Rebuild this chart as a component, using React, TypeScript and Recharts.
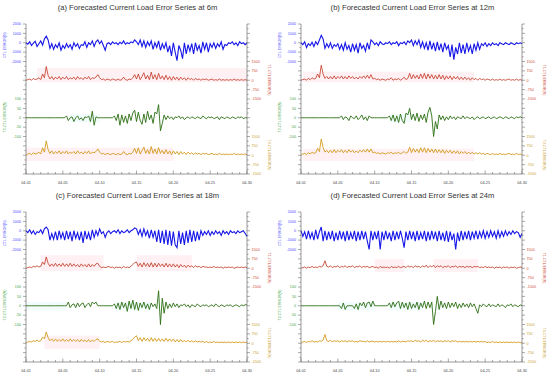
import { LineChart, Line, XAxis, YAxis, ReferenceArea } from "recharts";

// ---- data: 121 points = every 6h from 04-01 to 04-30 ----
const dateLabels = ["04-01", "04-05", "04-10", "04-15", "04-20", "04-25", "04-30"];
const ctlLabels = ["2000", "1000", "0", "-1000", "-2000"];
const t1Labels = ["1500", "750", "0", "-750", "-1500"];
const t2Labels = ["100", "50", "0", "-50", "-100"];
const t3Labels = ["1500", "750", "0", "-750", "-1500"];

const blueA = [0,-150,100,-300,-50,150,-400,-100,200,-250, 400,700,300,-600,-100,-700,-200,-500,0,-800, -300,-600,-100,-500,-200,-700,0,-400,-100,-600, -200,-300,100,-500,0,-200,200,-400,100,300, -100,200,-300,-800,-100,0,-200,100,-100,0, -200,50,-100,200,-150,0,-100,100,0,300, 100,-200,300,-400,200,-500,100,-300,200,-700, 0,-500,200,-800,-100,-600,0,-1000,-300,-1400, 0,-1000,-1900,-300,-800,-1700,0,-1200,-200,-900, -100,-1200,0,-800,-300,-1100,100,-700,0,-1000, -100,-500,0,-600,-100,-400,100,-700,-200,-300, 0,-100,100,-200,0,-300,100,-100,0,-200, 0];
const redA = [0,50,100,0,150,50,100,200,50,500, 200,1100,400,100,300,50,250,100,300,50, 250,100,300,50,200,100,250,50,300,100, 200,50,250,100,300,50,200,150,250,450, 200,50,100,0,100,50,0,100,50,0, 100,0,50,250,50,0,100,50,200,450, 100,500,50,300,600,100,400,50,650,100, 450,50,550,100,350,50,400,50,300,0, 300,50,250,0,250,50,200,0,200,50, 150,0,150,50,100,0,100,50,100,0, 50,100,0,50,0,100,0,50,0,50, 0,50,0,100,0,50,0,50,0,50, 0];
const greenA = [0,0,0,0,0,0,0,0,0,0, 0,0,0,0,0,0,0,0,0,0, 0,0,10,-15,0,5,-20,0,10,-10, 0,-15,5,0,10,-20,35,-40,5,0, 0,0,0,0,0,0,0,0,10,-15, 20,-40,15,-25,10,-30,20,-15,25,40, -20,30,-15,-35,20,-25,35,-10,15,-30, 30,20,70,-70,-30,15,-10,10,-5,5, -10,5,0,10,-5,5,-10,0,5,-5, 5,0,-5,5,0,-5,10,0,-5,5, 0,5,-5,0,5,-10,5,0,-5,5, 0,-5,5,0,-5,5,0,5,-5,0, 0];
const orangeA = [0,100,150,50,200,100,150,250,100,600, 250,1150,450,150,350,100,300,150,350,100, 300,150,350,100,250,150,300,100,350,150, 250,100,300,150,350,100,250,200,300,500, 250,100,150,50,150,100,50,150,100,50, 150,50,100,300,100,50,150,100,250,550, 150,600,100,350,650,150,450,100,700,150, 500,100,600,150,400,100,450,100,350,50, 350,100,300,50,300,100,250,50,250,100, 200,50,200,100,150,50,150,100,150,50, 100,150,50,100,50,150,50,100,50,100, 50,100,50,150,50,100,50,100,50,100, 50];

const blueB = [0,-200,100,-500,-100,-300,50,-400,100,-200, 300,800,400,-600,-100,-500,0,-600,-200,-400, -100,-700,-200,-800,0,-700,-300,-1000,-100,-800, -200,-1100,0,-600,-300,-900,0,-700,300,100, -200,0,-300,100,-100,-200,0,-100,100,-200, 0,-100,100,-300,0,-100,100,-200,200,0, 300,-300,200,-200,300,-500,100,-600,0,-800, 200,-700,0,-900,100,-800,-100,-1000,0,-700, -300,-1500,-200,-1800,-500,-1200,0,-1100,-200,-1200, 0,-900,-300,-1200,-100,-800,0,-700,-100,-300, 0,-400,-100,-300,0,-200,-100,-300,0,-100, -200,0,-100,-200,0,-100,-200,0,-100,0, -100];
const redB = [0,50,100,0,150,50,200,100,150,500, 200,1200,500,150,300,100,300,100,350,100, 300,150,350,100,300,100,350,150,300,100, 250,100,300,150,350,150,400,150,450,100, 150,50,100,0,100,50,0,100,50,200, 0,100,50,150,0,100,250,50,150,550, 100,450,150,400,100,500,150,550,100,500, 150,450,100,400,100,450,100,400,50,350, 100,350,50,300,100,300,50,250,50,250, 50,200,0,200,50,150,0,150,50,100, 0,100,50,0,100,0,50,0,100,0, 50,0,50,100,0,50,0,100,0,50, 0];
const greenB = [0,0,0,0,0,0,0,0,0,0, 0,0,0,0,0,0,0,0,0,0, 0,0,10,-10,5,0,-15,10,0,-5, 10,-10,0,15,-10,5,-15,10,0,0, 0,0,0,0,0,0,0,0,10,-15, 15,-20,10,-25,20,-15,-30,25,15,50, -10,20,-15,25,-20,15,-10,20,-25,30, 55,10,-100,-20,-60,15,-10,10,-15,5, -10,10,-5,5,-10,5,0,-5,10,-5, 5,0,-5,5,-10,0,5,-5,0,5, -5,0,5,-5,0,5,-5,0,5,0, -5,5,0,-5,5,0,-5,5,0,5, 0];
const orangeB = [0,100,150,50,200,100,250,150,200,550, 300,1300,600,250,400,200,400,200,450,200, 400,250,450,200,400,200,450,250,400,200, 350,200,400,250,450,250,500,250,500,200, 250,150,200,100,200,150,100,200,150,250, 100,200,150,250,100,200,300,150,250,650, 200,550,250,500,200,600,250,600,200,550, 250,500,200,500,200,450,200,450,150,400, 200,400,150,350,150,350,100,300,150,300, 100,250,100,250,100,200,100,200,100,150, 50,150,100,50,150,50,100,50,150,50, 100,50,100,150,50,100,50,150,50,100, 50];

const blueC = [0,-200,100,-300,0,-400,-100,-200,100,-300, 200,400,100,-1000,-300,-900,-100,-1000,0,-800, -200,-1000,0,-900,-100,-1100,0,-800,-200,-1000, -100,-1300,0,-900,-200,-1000,100,-700,0,-500, 200,-300,-100,-700,-200,0,-300,-100,0,-200, 100,-300,0,-200,-100,100,-200,0,100,300, 200,-400,100,-600,200,-500,0,-800,100,-700, 0,-1200,100,-1300,0,-1400,100,-1500,0,-1600, -100,-1500,-1800,0,-1400,-200,-1500,0,-1300,100, -1200,0,-1100,-100,-1000,0,-500,-100,-400,0, -500,-100,-400,0,-300,-100,-500,0,-300,-100, -400,0,-200,-100,-300,0,-200,-100,0,-300, -600];
const redC = [0,50,100,50,150,100,200,100,150,500, 300,900,400,150,350,150,400,150,350,150, 400,150,350,150,400,150,350,150,300,100, 350,150,300,100,350,100,300,150,350,400, 150,50,100,50,100,150,50,100,0,100, 50,100,0,150,50,100,50,150,300,450, 500,150,400,100,450,150,400,100,450,100, 400,100,400,150,350,100,400,100,350,100, 350,100,300,50,300,100,250,50,250,100, 200,50,200,100,150,50,150,100,100,50, 100,50,150,50,100,50,100,0,100,50, 100,50,100,0,50,100,50,100,50,100, 50];
const greenC = [0,0,0,0,0,0,0,0,0,0, 0,0,0,0,0,0,0,0,0,0, 0,0,0,20,-10,5,10,-10,15,-5, 10,15,-10,5,15,-5,20,10,20,0, 0,0,0,0,0,0,0,0,10,-15, 15,-20,20,-10,15,-30,25,-15,30,-20, 20,-25,15,-10,20,-15,10,-20,15,-5, 10,-15,80,-100,40,-40,20,-15,10,-10, 15,-5,10,-10,5,0,10,-5,5,-10, 5,0,-5,10,0,-5,5,0,5,-5, 0,5,-5,10,0,-5,5,0,-5,5, 0,5,-5,0,5,0,-5,5,0,5, 5];
const orangeC = [0,100,150,100,200,150,250,150,200,500, 350,900,450,200,350,150,350,150,300,150, 350,150,300,150,350,150,300,150,300,100, 300,150,250,100,300,100,250,150,300,350, 150,100,150,50,150,100,100,150,50,100, 100,150,50,150,100,150,100,200,300,500, 600,200,450,150,450,200,400,150,450,150, 400,150,400,150,350,150,400,150,350,150, 350,100,300,100,300,100,250,100,250,100, 200,100,200,100,150,100,150,50,150,50, 100,50,150,50,100,50,100,50,100,50, 100,50,100,50,100,50,100,50,100,50, 100];

const blueD = [0,-600,-100,-900,0,-800,-200,-1000,100,-900, -100,400,-1100,0,-1000,-100,-900,0,-1100,-200, -1000,0,-900,-100,-1100,0,-1000,-200,-900,0, -1100,-100,-1000,0,-900,-100,-1100,-2000,0,-1000, -100,-900,0,-2000,-100,-1000,0,-900,-200,-1100, 0,-1000,-100,-900,0,-800,-1800,-100,-1000,0, -900,-100,-1100,0,-1000,-200,-900,0,-1100,-100, -1000,0,-900,-100,-1100,0,-1000,-200,-1100,0, -1200,-100,-1000,-300,-2000,-200,-1100,0,-1000,-100, -900,0,-1000,-100,-800,0,-900,-100,-700,0, -800,-100,-700,0,-600,-100,-800,0,-700,-100, -600,0,-500,-100,-400,0,-300,-100,-200,-700, -300];
const redD = [0,50,100,0,100,50,150,50,100,50, 150,100,200,600,150,100,200,50,150,100, 200,50,150,100,200,50,150,100,200,50, 150,100,200,50,150,100,150,50,100,150, 50,100,0,150,50,100,50,100,0,150, 50,100,50,150,50,100,150,50,200,100, 150,50,200,100,150,50,200,100,250,50, 200,100,250,50,200,100,200,50,150,100, 200,50,150,100,200,50,150,100,150,50, 150,100,150,50,150,100,150,50,100,50, 150,50,100,50,100,0,100,50,100,0, 100,50,100,0,100,50,100,0,50,100, 50];
const greenD = [0,0,0,0,0,0,0,0,0,0, 0,0,0,0,0,0,0,0,0,0, 0,0,-15,15,-20,0,0,0,0,-15, 10,-20,15,0,20,-10,15,20,-5,25, 0,0,0,0,0,0,0,0,15,-10, 20,-5,15,25,-15,20,-10,15,-20,20, -15,10,-10,20,-20,15,-10,25,-15,20, -10,20,-100,-30,50,-20,25,-10,15,-15, 20,-10,15,-5,20,-15,10,-10,15,-5, 10,-10,15,-5,10,-15,-40,5,-5,10, 0,-5,10,-5,5,0,-5,10,-5,5, 0,-10,5,0,10,-5,5,0,-5,5, 0];
const orangeD = [0,100,150,50,150,100,200,100,150,100, 200,150,250,700,200,150,250,100,200,150, 200,100,200,150,200,100,200,150,200,100, 150,100,200,150,150,100,200,100,150,150, 100,150,100,150,100,150,100,150,100,150, 100,150,100,200,100,150,150,100,200,150, 200,100,250,150,200,100,250,150,250,100, 200,150,250,100,200,150,200,100,200,150, 200,100,200,150,200,100,150,100,150,100, 150,100,150,100,150,100,150,100,150,100, 150,50,100,50,150,50,100,50,100,50, 100,50,100,50,100,50,100,50,100,50, 50];

// ---- layout ----
const W = 275;
const H = 188;
const PL = 26;
const PR = 247;
const PT = 24;
const PB = 174;
const AXIS = "#555";
const BLUE = "#1616e8";
const RED = "#c0331f";
const GREEN = "#2a6e12";
const ORANGE = "#d49a1c";

const ticksX = Array.from({ length: 31 }, (_, k) => k * 4);
const ticksY = Array.from({ length: 33 }, (_, k) => k / 2);

// left axis: CTL band at 0..4, T2 band at 8..12 ; right: T1 at 4..8, T3 at 12..16
const leftLabel = (v: number) => {
  if (v >= 0 && v <= 4 && Number.isInteger(v)) return { t: ctlLabels[v], c: "#4a4aff" };
  if (v >= 8 && v <= 12 && Number.isInteger(v)) return { t: t2Labels[v - 8], c: "#3f9f3f" };
  return null;
};
const rightLabel = (v: number) => {
  if (v >= 4 && v <= 8 && Number.isInteger(v)) return { t: t1Labels[v - 4], c: "#d04a3a" };
  if (v >= 12 && v <= 16 && Number.isInteger(v)) return { t: t3Labels[v - 12], c: "#c9a032" };
  return null;
};

const LeftTick = ({ y, payload }: any) => {
  const v = payload.value;
  const major = Number.isInteger(v);
  const lab = leftLabel(v);
  return (
    <g>
      <line x1={PL - (major ? 3 : 1.6)} x2={PL} y1={y} y2={y} stroke={AXIS} strokeWidth={0.5} />
      {lab && (
        <text x={PL - 5} y={y + 1.3} textAnchor="end" fontSize={3.7} fill={lab.c} fontFamily="Liberation Sans">
          {lab.t}
        </text>
      )}
    </g>
  );
};

const RightTick = ({ y, payload }: any) => {
  const v = payload.value;
  const major = Number.isInteger(v);
  const lab = rightLabel(v);
  return (
    <g>
      <line x1={PR} x2={PR + (major ? 3 : 1.6)} y1={y} y2={y} stroke={AXIS} strokeWidth={0.5} />
      {lab && (
        <text x={PR + 4.5} y={y + 1.3} textAnchor="start" fontSize={3.7} fill={lab.c} fontFamily="Liberation Sans">
          {lab.t}
        </text>
      )}
    </g>
  );
};

const BottomTick = ({ x, payload }: any) => {
  const v = payload.value;
  const major = v % 20 === 0;
  return (
    <g>
      <line x1={x} x2={x} y1={PB} y2={PB - (major ? 3.5 : 2)} stroke={AXIS} strokeWidth={0.5} />
      {major && (
        <text x={x} y={PB + 10} textAnchor="middle" fontSize={3.8} fill="#444" fontFamily="Liberation Sans">
          {dateLabels[v / 20]}
        </text>
      )}
    </g>
  );
};

const TopTick = ({ x, payload }: any) => {
  const major = payload.value % 20 === 0;
  return <line x1={x} x2={x} y1={PT} y2={PT + (major ? 3.5 : 2)} stroke={AXIS} strokeWidth={0.5} />;
};

type Shade = [number, number, number, number, string];

interface PanelProps {
  left: number;
  top: number;
  title: string;
  blue: number[];
  red: number[];
  green: number[];
  orange: number[];
  shades: Shade[];
}

const Panel = ({ left, top, title, blue, red, green, orange, shades }: PanelProps) => {
  const data = blue.map((b, i) => ({ i, b, r: red[i], g: green[i], o: orange[i] }));
  return (
    <div style={{ position: "absolute", left, top, width: W, height: H }}>
      <LineChart width={W} height={H} data={data} margin={{ top: PT, right: 0, bottom: 0, left: 0 }}>
        <XAxis xAxisId="x" dataKey="i" type="number" domain={[0, 120]} ticks={ticksX} interval={0}
          height={H - PB} tickLine={false} stroke={AXIS} strokeWidth={0.6} tick={<BottomTick />} />
        <XAxis xAxisId="top" orientation="top" dataKey="i" type="number" domain={[0, 120]} ticks={ticksX}
          interval={0} height={0} tickLine={false} stroke={AXIS} strokeWidth={0.6} tick={<TopTick />} allowDataOverflow />
        <YAxis yAxisId="L" orientation="left" type="number" domain={[0, 16]} reversed ticks={ticksY} allowDataOverflow
          interval={0} width={PL} tickLine={false} stroke={AXIS} strokeWidth={0.6} tick={<LeftTick />} />
        <YAxis yAxisId="R" orientation="right" type="number" domain={[0, 16]} reversed ticks={ticksY} allowDataOverflow
          interval={0} width={W - PR} tickLine={false} stroke={AXIS} strokeWidth={0.6} tick={<RightTick />} />
        <YAxis yAxisId="b" hide type="number" domain={[-14000, 2000]} allowDataOverflow />
        <YAxis yAxisId="r" hide type="number" domain={[-7500, 4500]} allowDataOverflow />
        <YAxis yAxisId="g" hide type="number" domain={[-300, 500]} allowDataOverflow />
        <YAxis yAxisId="o" hide type="number" domain={[-1500, 10500]} allowDataOverflow />
        {shades.map((s, k) => (
          <ReferenceArea key={k} xAxisId="x" yAxisId="L" x1={s[0]} x2={s[1]} y1={s[2]} y2={s[3]}
            fill={s[4]} fillOpacity={0.55} stroke="none" ifOverflow="hidden" />
        ))}
        <Line xAxisId="x" yAxisId="b" dataKey="b" stroke={BLUE} strokeWidth={1.1} dot={false} isAnimationActive={false} />
        <Line xAxisId="x" yAxisId="r" dataKey="r" stroke={RED} strokeWidth={0.8} dot={false} isAnimationActive={false} />
        <Line xAxisId="x" yAxisId="g" dataKey="g" stroke={GREEN} strokeWidth={0.9} dot={false} isAnimationActive={false} />
        <Line xAxisId="x" yAxisId="o" dataKey="o" stroke={ORANGE} strokeWidth={0.9} dot={false} isAnimationActive={false} />
      </LineChart>
      <svg width={W} height={H} style={{ position: "absolute", left: 0, top: 0, pointerEvents: "none" }}>
        <text x={137.5} y={9.5} textAnchor="middle" fontSize={7.6} fill="#333" fontFamily="Liberation Sans">
          {title}
        </text>
        <text transform="translate(6.2,45) rotate(-90)" textAnchor="middle" fontSize={3.6} fill="#4a4aff" fontFamily="Liberation Sans">
          CTL ERROR(N)
        </text>
        <text transform="translate(6.2,117) rotate(-90)" textAnchor="middle" fontSize={3.6} fill="#3f9f3f" fontFamily="Liberation Sans">
          T2-CTL ERROR(N)
        </text>
        <text transform="translate(268,80) rotate(90)" textAnchor="middle" fontSize={3.6} fill="#d04a3a" fontFamily="Liberation Sans">
          T1-CTL ERROR(N)
        </text>
        <text transform="translate(268,155) rotate(90)" textAnchor="middle" fontSize={3.6} fill="#c9a032" fontFamily="Liberation Sans">
          T3-CTL ERROR(N)
        </text>
      </svg>
    </div>
  );
};

// faint background tints seen behind bands: [x1, x2, y1, y2, colour] in index / band units
const shadesA: Shade[] = [[6, 120, 4.7, 6.2, "#fde3ea"], [24, 40, 9.6, 10.5, "#eafafa"], [0, 80, 13.2, 14.6, "#fde3ea"]];
const shadesB: Shade[] = [[1, 94, 5.1, 6.2, "#fde3ea"], [1, 94, 13.3, 14.6, "#fde3ea"], [48, 60, 9.6, 10.5, "#eafafa"]];
const shadesC: Shade[] = [[8, 42, 4.6, 6.3, "#fde3ea"], [60, 90, 4.6, 6.3, "#fde3ea"], [0, 22, 9.6, 10.5, "#eafafa"], [48, 68, 9.6, 10.5, "#eafafa"], [10, 40, 13.2, 14.6, "#fde3ea"]];
const shadesD: Shade[] = [[40, 56, 5.0, 6.4, "#fde3ea"], [72, 96, 5.0, 6.4, "#fde3ea"], [20, 40, 9.6, 10.5, "#eafafa"], [48, 66, 9.6, 10.5, "#eafafa"]];

export default function App() {
  return (
    <div style={{ position: "absolute", left: 0, top: 0, width: 550, height: 378, background: "#fff", overflow: "hidden" }}>
      <Panel left={0} top={0} title="(a) Forecasted Current Load Error Series at 6m"
        blue={blueA} red={redA} green={greenA} orange={orangeA} shades={shadesA} />
      <Panel left={275} top={0} title="(b) Forecasted Current Load Error Series at 12m"
        blue={blueB} red={redB} green={greenB} orange={orangeB} shades={shadesB} />
      <Panel left={0} top={188} title="(c) Forecasted Current Load Error Series at 18m"
        blue={blueC} red={redC} green={greenC} orange={orangeC} shades={shadesC} />
      <Panel left={275} top={188} title="(d) Forecasted Current Load Error Series at 24m"
        blue={blueD} red={redD} green={greenD} orange={orangeD} shades={shadesD} />
    </div>
  );
}
